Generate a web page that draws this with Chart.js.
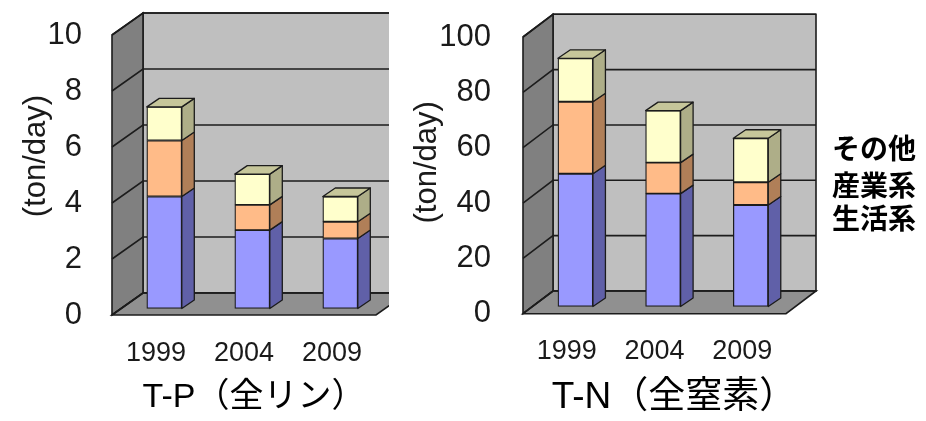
<!DOCTYPE html>
<html><head><meta charset="utf-8">
<script src="https://cdn.jsdelivr.net/npm/chart.js@4/dist/chart.umd.min.js"></script>
<style>html,body{margin:0;background:#fff;overflow:hidden}canvas{position:absolute;top:0}</style>
</head><body>
<canvas id="tp" width="389" height="421" style="left:0"></canvas>
<canvas id="tn" width="531" height="421" style="left:395px"></canvas>
<script>
const categories = ['1999', '2004', '2009'];
const seriesNames = ['生活系', '産業系', 'その他'];
const tpLiving = [4.0, 2.8, 2.5];
const tpIndustry = [2.0, 0.9, 0.6];
const tpOther = [1.2, 1.1, 0.9];
const tnLiving = [48, 40.8, 36.7];
const tnIndustry = [26, 11.2, 8.2];
const tnOther = [15.7, 18.8, 15.9];
const legendLabels = ['その他', '産業系', '生活系'];
const frontColors = ['#9999FF', '#FFBB88', '#FFFFCC'];
const sideColors = ['#6060A8', '#B07F58', '#AEAE88'];
const topColor = '#C6C69A';
const lineColor = '#1c1c1c';
const titleLine = 42, bottomPad = 2;

function makeChart(id, o) {
  const wallPlugin = {
    id: 'wall3d',
    afterLayout(c) {
      c.titleBlock.left = o.titleX - 200; c.titleBlock.right = o.titleX + 200;
      const y = c.scales.y, orig = y.drawTitle;
      y.drawTitle = function () {
        const t = this.top, b = this.bottom;
        this.top -= o.axisTitleShift; this.bottom -= o.axisTitleShift;
        orig.call(this);
        this.top = t; this.bottom = b;
      };
    },
    beforeDatasetsDraw(c) {
      const g = c.ctx, a = c.chartArea, y = c.scales.y;
      const [wx, wy] = o.wall;
      const poly = (pts, fill) => {
        g.beginPath(); pts.forEach((p, i) => i ? g.lineTo(p[0], p[1]) : g.moveTo(p[0], p[1])); g.closePath();
        g.fillStyle = fill; g.fill(); g.stroke();
      };
      g.save();
      g.strokeStyle = lineColor; g.lineWidth = 1.6;
      poly([[a.left + wx, a.top + wy], [a.right + wx, a.top + wy], [a.right + wx, a.bottom + wy], [a.left + wx, a.bottom + wy]], '#BFBFBF');
      poly([[a.left, a.top], [a.left + wx, a.top + wy], [a.left + wx, a.bottom + wy], [a.left, a.bottom]], '#808080');
      poly([[a.left, a.bottom], [a.left + wx, a.bottom + wy], [a.right + wx, a.bottom + wy], [a.right, a.bottom]], '#909090');
      y.ticks.forEach(t => {
        const py = y.getPixelForValue(t.value);
        g.beginPath(); g.moveTo(a.left, py); g.lineTo(a.left + wx, py + wy); g.lineTo(a.right + wx, py + wy); g.stroke();
      });
      g.restore();
      g.save();
      g.translate(o.bar[0], o.bar[1]);
    },
    afterDatasetsDraw(c) {
      const g = c.ctx;
      const [dx, dy] = o.depth;
      g.strokeStyle = lineColor; g.lineWidth = 1.3; g.lineJoin = 'round';
      c.data.datasets.forEach((ds, i) => {
        c.getDatasetMeta(i).data.forEach(el => {
          const b = el.getProps(['x', 'y', 'base', 'width'], true);
          const l = b.x - b.width / 2, r = b.x + b.width / 2;
          g.beginPath(); g.moveTo(r, b.y); g.lineTo(r + dx, b.y + dy); g.lineTo(r + dx, b.base + dy); g.lineTo(r, b.base); g.closePath();
          g.fillStyle = sideColors[i]; g.fill(); g.stroke();
          if (i === c.data.datasets.length - 1) {
            g.beginPath(); g.moveTo(l, b.y); g.lineTo(l + dx, b.y + dy); g.lineTo(r + dx, b.y + dy); g.lineTo(r, b.y); g.closePath();
            g.fillStyle = topColor; g.fill(); g.stroke();
          }
        });
      });
      g.restore();
    },
    afterDraw(c) {
      if (!o.legendX) return;
      const g = c.ctx;
      g.save();
      g.font = 'bold 28px "Noto Sans CJK JP"'; g.fillStyle = '#000'; g.textBaseline = 'middle'; g.textAlign = 'left';
      legendLabels.forEach((t, i) => g.fillText(t, o.legendX, o.legendY[i]));
      g.restore();
    }
  };
  return new Chart(document.getElementById(id), {
    type: 'bar',
    data: {
      labels: categories,
      datasets: o.series.map((d, i) => ({
        label: seriesNames[i], data: d, backgroundColor: frontColors[i], borderColor: lineColor,
        borderWidth: 1.3, borderSkipped: false, barThickness: 35, clip: false
      }))
    },
    options: {
      responsive: false, animation: false,
      layout: { padding: { top: o.top, right: o.padRight, bottom: bottomPad, left: 0 } },
      plugins: {
        legend: { display: false }, tooltip: { enabled: false },
        title: { display: true, text: o.title, position: 'bottom', color: '#000', padding: 0,
          font: { family: '"Liberation Sans","Noto Sans CJK JP"', size: o.titleSize, weight: 'normal', lineHeight: titleLine / o.titleSize } }
      },
      scales: {
        x: {
          stacked: true, grid: { display: false, drawTicks: false }, border: { display: false },
          ticks: { color: '#1a1a1a', padding: 22, maxRotation: 0, font: { family: '"Liberation Sans"', size: 27 } },
          afterFit(s) { s.height = 421 - bottomPad - titleLine - o.bottom; }
        },
        y: {
          stacked: true, min: 0, max: o.max, grid: { display: false, drawTicks: false }, border: { display: false },
          ticks: { stepSize: o.step, color: '#1a1a1a', padding: o.tickPad, font: { family: '"Liberation Sans"', size: 31 } },
          title: { display: true, text: '(ton/day)', color: '#1a1a1a', padding: { top: o.titleTop, bottom: 0 }, font: { family: '"Liberation Sans"', size: 31 } },
          afterFit(s) { s.width = o.left; s.paddingTop = 0; s.paddingBottom = 0; }
        }
      }
    },
    plugins: [wallPlugin]
  });
}

makeChart('tp', {
  series: [tpLiving, tpIndustry, tpOther], max: 10, step: 2, title: 'T-P（全リン）', titleX: 254, titleSize: 34,
  top: 35, bottom: 315, left: 112, padRight: 13, titleTop: 18, tickPad: 30, axisTitleShift: 19,
  wall: [31, -22], bar: [8.3, -6.5], depth: [12.5, -8.5]
});
makeChart('tn', {
  series: [tnLiving, tnIndustry, tnOther], max: 100, step: 20, title: 'T-N（全窒素）', titleX: 279, titleSize: 37,
  top: 37, bottom: 313.7, left: 128, padRight: 140, titleTop: 14, tickPad: 32, axisTitleShift: 13,
  wall: [30, -22.7], bar: [8.6, -7.2], depth: [12.5, -8.5],
  legendX: 437, legendY: [148, 185, 218]
});
</script>
</body></html>
